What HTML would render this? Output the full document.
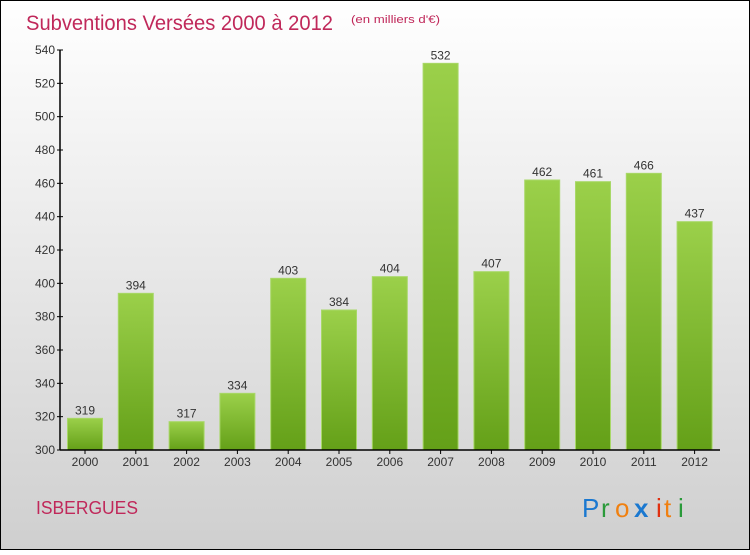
<!DOCTYPE html>
<html><head><meta charset="utf-8"><style>
body{margin:0;width:750px;height:550px;overflow:hidden;font-family:"Liberation Sans",sans-serif}
</style></head><body>
<svg id="chart" width="750" height="550" xmlns="http://www.w3.org/2000/svg">
<defs>
<linearGradient id="bg" x1="0" y1="0" x2="0" y2="1"><stop offset="0" stop-color="#ffffff"/><stop offset="1" stop-color="#cfcfcf"/></linearGradient>
<linearGradient id="bar" x1="0" y1="0" x2="0" y2="1"><stop offset="0" stop-color="#9bd04a"/><stop offset="1" stop-color="#64a018"/></linearGradient>
</defs>
<rect x="0.5" y="0.5" width="749" height="549" fill="url(#bg)" stroke="#000"/>
<text x="26" y="30" font-size="21" fill="#c0285a" textLength="307" lengthAdjust="spacingAndGlyphs">Subventions Versées 2000 à 2012</text>
<text x="351" y="23" font-size="11" fill="#c0285a" textLength="89" lengthAdjust="spacingAndGlyphs">(en milliers d'€)</text>
<text x="36" y="514" font-size="18" fill="#c0285a" textLength="102" lengthAdjust="spacingAndGlyphs">ISBERGUES</text>
<g font-size="26">
<text x="582" y="517" fill="#1a78d0">P</text><text x="601" y="517" fill="#2a9a3a">r</text><text x="615" y="517" fill="#f08010">o</text><text x="634" y="517" fill="#1a78d0" font-weight="bold">x</text><text x="656" y="517" fill="#e03010">i</text><text x="664" y="517" fill="#f08010">t</text><text x="678" y="517" fill="#2a9a3a">i</text>
</g>
<g id="plot"></g>
</svg>
<script>
const categories=["2000","2001","2002","2003","2004","2005","2006","2007","2008","2009","2010","2011","2012"];
const values=[319,394,317,334,403,384,404,532,407,462,461,466,437];
const yTicks=[300,320,340,360,380,400,420,440,460,480,500,520,540];
const ns="http://www.w3.org/2000/svg";
const g=document.getElementById('plot');
const x0=60,step=50.8,bw=35,yMin=300,yMax=540,yTop=50,yBot=450;
function y(v){return yBot-(v-yMin)/(yMax-yMin)*(yBot-yTop);}
function xc(i){return x0+25+i*step;}
function mk(t,a){const e=document.createElementNS(ns,t);for(const k in a)e.setAttribute(k,a[k]);g.appendChild(e);return e;}
categories.forEach((c,i)=>{
 const r=mk('rect',{x:xc(i)-bw/2,y:y(values[i]),width:bw,height:yBot-y(values[i]),fill:'url(#bar)',stroke:'#a8d868','stroke-width':1});
 
 
 const t=mk('text',{x:xc(i),y:y(values[i])-4,'text-anchor':'middle','font-size':12,fill:'#333'});t.textContent=values[i];
 
 
 const xl=mk('text',{x:xc(i),y:466,'text-anchor':'middle','font-size':12,fill:'#333'});xl.textContent=c;
 
 
 const tk=mk('line',{x1:xc(i),x2:xc(i),y1:450,y2:454,stroke:'#000'});
 
 
});
yTicks.forEach(v=>{
 const l=mk('line',{x1:57,x2:63,y1:y(v),y2:y(v),stroke:'#000'});
 
 
 const t=mk('text',{x:55,y:y(v)+4,'text-anchor':'end','font-size':12,fill:'#333'});t.textContent=v;
 
 
});
const ya=mk('line',{x1:60,x2:60,y1:50,y2:450,stroke:'#000','stroke-width':1.5});


const xa=mk('line',{x1:60,x2:720,y1:450,y2:450,stroke:'#000','stroke-width':1.5});


</script>
</body></html>
